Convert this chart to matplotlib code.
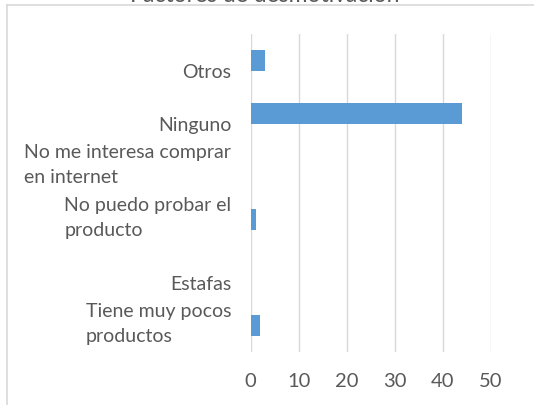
import matplotlib
matplotlib.use("Agg")
import matplotlib.pyplot as plt
from matplotlib.lines import Line2D
from matplotlib.transforms import blended_transform_factory, offset_copy

# data (bottom to top, as drawn)
categories = ["Tiene muy pocos\nproductos", "Estafas", "No puedo probar el\nproducto",
              "No me interesa comprar\nen internet", "Ninguno", "Otros"]
values = [2, 0, 1, 0, 44, 3]
xticks = [0, 10, 20, 30, 40, 50]
title = "Factores de desmotivación"

plt.rcParams['font.family'] = ['Lato', 'DejaVu Sans']
text_color = "#595959"
grid_color = "#d9d9d9"
bar_color = "#5b9bd5"

fig = plt.figure(figsize=(5.34, 4.05), dpi=100)
ax = fig.add_axes([250.7 / 534, 53 / 405, 240 / 534, 318 / 405])

ypos = list(range(len(categories)))
ax.barh(ypos, values, height=0.39, color=bar_color, zorder=3)
ax.set_xlim(0, 50)
ax.set_ylim(-0.5, len(categories) - 0.5)
ax.set_xticks(xticks)
ax.set_xticklabels([str(t) for t in xticks], fontsize=14.5, color=text_color)
ax.tick_params(axis='x', length=0, pad=15)
ax.set_yticks([])
ax.grid(axis='x', color=grid_color, linewidth=1, zorder=0)
for s in ax.spines.values():
    s.set_visible(False)

# category labels (Excel pushes single-line labels a bit down)
trans = blended_transform_factory(ax.transAxes, ax.transData)
for y, lab in zip(ypos, categories):
    dy = -9 if "\n" not in lab else 1
    t = offset_copy(trans, fig=fig, x=-14, y=dy, units='points')
    ax.text(0, y, lab, transform=t, ha='right', va='center', multialignment='left',
            fontsize=14, color=text_color, linespacing=1.55)

# title cut off at the top of the picture
fig.text(265 / 534, 1 - 1.5 / 405, title, ha='center', va='baseline', fontsize=16.5, color=text_color)

# chart frame
fig.add_artist(Line2D([7 / 534, 1], [1 - 5 / 405, 1 - 5 / 405], color=grid_color, linewidth=1.2))
fig.add_artist(Line2D([7 / 534, 7 / 534], [0, 1 - 5 / 405], color=grid_color, linewidth=1.2))

fig.savefig("out.png", dpi=100)
